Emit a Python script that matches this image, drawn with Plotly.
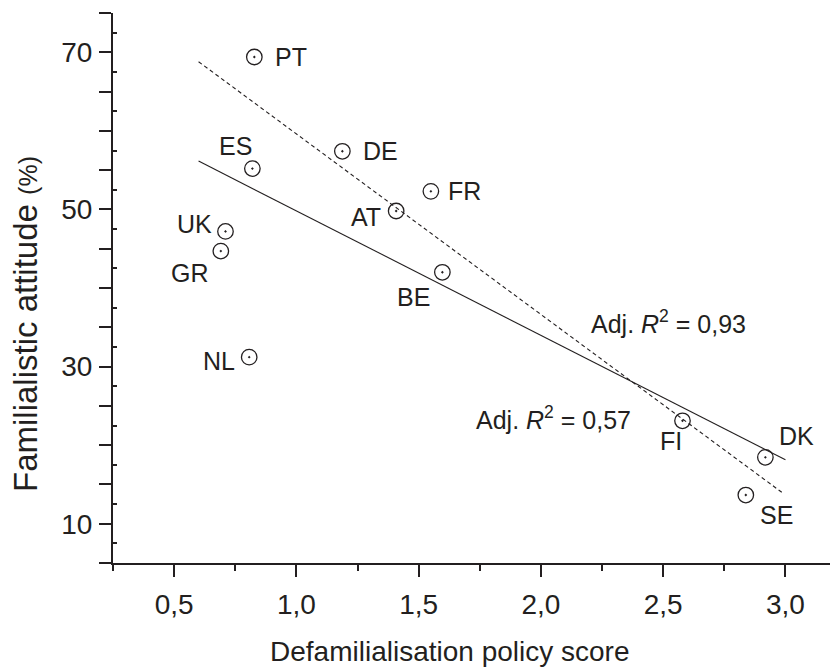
import plotly.graph_objects as go

countries = ["PT", "DE", "ES", "FR", "AT", "UK", "GR", "BE", "NL", "FI", "DK", "SE"]
policy_score = [0.828, 1.188, 0.820, 1.550, 1.408, 0.710, 0.691, 1.597, 0.807, 2.579, 2.918, 2.838]
familialistic = [69.4, 57.4, 55.2, 52.3, 49.8, 47.2, 44.7, 42.0, 31.2, 23.1, 18.45, 13.65]

fit_all_x = [0.6, 3.0]
fit_all_y = [56.15, 18.15]
fit_sub_x = [0.6, 2.985]
fit_sub_y = [68.8, 14.0]

y_tick_vals = [10, 30, 50, 70]
y_mid_vals = [5, 15, 20, 25, 35, 40, 45, 55, 60, 65, 75]
y_inner_vals = [7.5, 12.5, 17.5, 22.5, 27.5, 32.5, 37.5, 42.5, 47.5, 52.5, 57.5, 62.5, 67.5, 72.5]
x_tick_vals = [0.5, 1.0, 1.5, 2.0, 2.5, 3.0]
x_minor_vals = [0.25, 0.75, 1.25, 1.75, 2.25, 2.75]

# label offsets in pixels (dx right, dy down)
label_offsets = {
    "PT": (37, 0), "DE": (38, 0), "ES": (-17, -23), "FR": (34, 0),
    "AT": (-30, 6), "UK": (-31, -7), "GR": (-31, 22), "BE": (-29, 25),
    "NL": (-30, 4), "FI": (-11, 20), "DK": (31, -21), "SE": (31, 20),
}

INK = "#231f20"
FONT = "Arial, Liberation Sans, sans-serif"

# page body has an 8px default margin; plot area target in page px: x 113..838, y 13..563
OFF = 8
PL, PT_, PW, PH = 113, 13, 725, 550
Y_RANGE = [5, 75]


def px_to_paper(xp, yp):
    return (xp - PL) / PW, 1 - (yp - PT_) / PH


fig = go.Figure()
fig.add_trace(go.Scatter(x=fit_all_x, y=fit_all_y, mode="lines",
                         line=dict(color=INK, width=1.1), showlegend=False))
fig.add_trace(go.Scatter(x=fit_sub_x, y=fit_sub_y, mode="lines",
                         line=dict(color=INK, width=1.1, dash="4px,3px"), showlegend=False))
fig.add_trace(go.Scatter(x=policy_score, y=familialistic, mode="markers",
                         marker=dict(symbol="circle-open-dot", size=15.5, color=INK,
                                     line=dict(width=1.3, color=INK)),
                         showlegend=False))
# empty trace to register the overlay axis carrying the inner minor ticks
fig.add_trace(go.Scatter(x=[], y=[], yaxis="y2", mode="markers",
                         showlegend=False, hoverinfo="skip"))

annotations = []
for c, xv, yv in zip(countries, policy_score, familialistic):
    dx, dy = label_offsets[c]
    annotations.append(dict(x=xv, y=yv, xref="x", yref="y", text=c, showarrow=False,
                            xanchor="center", yanchor="middle",
                            xshift=dx, yshift=-dy, font=dict(size=25, color=INK, family=FONT)))


def paper_text(xp, yp, text, size, angle=0):
    px, py = px_to_paper(xp, yp)
    return dict(x=px, y=py, xref="paper", yref="paper", text=text, showarrow=False,
                xanchor="center", yanchor="middle", textangle=angle,
                font=dict(size=size, color=INK, family=FONT))


annotations.append(paper_text(668, 322, "Adj. <i>R</i><sup>2</sup> = 0,93", 25))
annotations.append(paper_text(553, 418, "Adj. <i>R</i><sup>2</sup> = 0,57", 25))
annotations.append(paper_text(449.5, 651, "Defamilialisation policy score", 28))
annotations.append(paper_text(25, 324,
                              'Familialistic attitude <span style="font-size:25px">(%)</span>',
                              33, angle=-90))

fig.update_layout(
    width=838 - OFF, height=669 - OFF,
    margin=dict(l=PL - OFF, r=0, t=PT_ - OFF, b=669 - OFF - (PT_ - OFF) - PH),
    paper_bgcolor="white", plot_bgcolor="white",
    separators=", ",
    font=dict(family=FONT, color=INK),
    annotations=annotations,
    yaxis2=dict(overlaying="y", side="left", range=Y_RANGE, showgrid=False, zeroline=False,
                showline=False, showticklabels=False,
                tickmode="array", tickvals=y_inner_vals, ticks="inside",
                ticklen=4, tickwidth=1.5, tickcolor=INK),
)
fig.update_xaxes(range=[0.25, 3.215], showgrid=False, zeroline=False,
                 showline=True, linecolor=INK, linewidth=2,
                 tickmode="array", tickvals=x_tick_vals, tickformat=".1f",
                 ticks="outside", ticklen=12, tickwidth=2, tickcolor=INK,
                 ticklabelstandoff=3,
                 tickfont=dict(size=28, color=INK, family=FONT),
                 minor=dict(tickmode="array", tickvals=x_minor_vals, ticks="outside",
                            ticklen=6, tickwidth=2, tickcolor=INK))
fig.update_yaxes(selector=dict(overlaying=None), range=Y_RANGE)
fig.layout.yaxis.update(showgrid=False, zeroline=False,
                        showline=True, linecolor=INK, linewidth=2,
                        tickmode="array", tickvals=y_tick_vals,
                        ticks="outside", ticklen=12, tickwidth=2, tickcolor=INK,
                        ticklabelstandoff=1,
                        tickfont=dict(size=28, color=INK, family=FONT),
                        minor=dict(tickmode="array", tickvals=y_mid_vals, ticks="outside",
                                   ticklen=12, tickwidth=2, tickcolor=INK))

fig.write_html("out.html")
